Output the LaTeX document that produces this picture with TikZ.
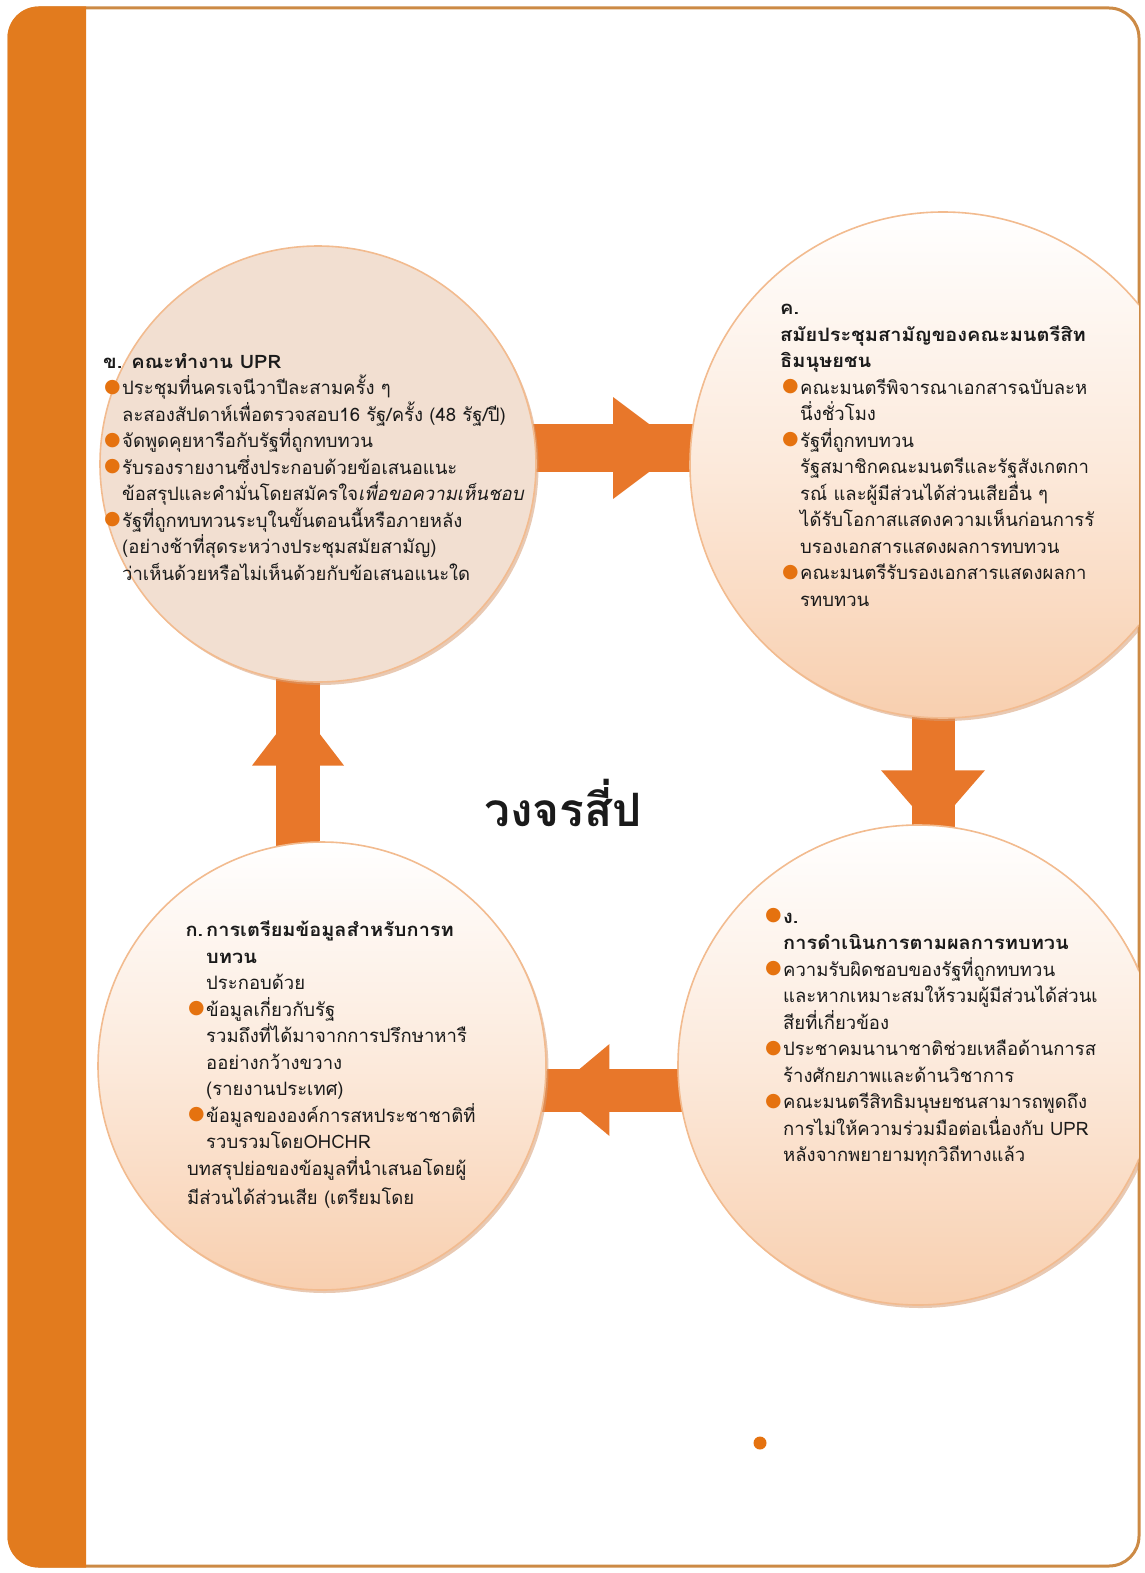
\documentclass[tikz,border=0pt]{standalone}
\usepackage{fontspec}
\setmainfont[Script=Thai]{Loma}
\newfontfamily\symf{DejaVu Sans}
\usetikzlibrary{shadows,decorations.markings,calc}
\definecolor{bandc}{HTML}{E27B1E}
\definecolor{framec}{HTML}{CC8A45}
\definecolor{arrowc}{HTML}{E8772A}
\definecolor{bulc}{HTML}{E5720F}
\definecolor{ring}{HTML}{F2BB8F}
\definecolor{peach}{HTML}{F8CFAF}
\definecolor{beige}{HTML}{F2DFD1}
\definecolor{shadc}{HTML}{D69C74}
\definecolor{txt}{HTML}{1A1A1A}
\pgfdeclarelayer{bg}
\pgfsetlayers{bg,main}
\newcommand{\bul}{\llap{\makebox[18pt][l]{\raisebox{2.5pt}{\textcolor{bulc}{\fontsize{19}{19}\selectfont\symf ●}}}}}
\newcommand{\hd}{\bfseries\addfontfeature{FakeStretch=1.08}}
\tikzset{
  x=1pt, y=-1pt,
  stage/.style={circle, inner sep=0pt, draw=ring, line width=1.6pt,
    drop shadow={shadow xshift=2.5pt, shadow yshift=-3pt, fill=shadc, opacity=0.55}},
  gradstage/.style={stage, top color=white, bottom color=peach, middle color=peach!45},
  body/.style={anchor=base west, inner sep=0pt, align=left, text=txt,
    font=\fontsize{18.5}{26.5}\selectfont},
  shaft/.style={draw=arrowc, line width=#1},
}
\begin{document}
\begin{tikzpicture}
\useasboundingbox (0,0) rectangle (1144,1573);
% frame
\draw[framec, line width=3pt, rounded corners=30pt] (9,8) rectangle (1139,1566);
\begin{scope}
  \clip (0,0) rectangle (86,1573);
  \fill[bandc, rounded corners=31pt] (7.5,6.5) rectangle (140,1567.5);
\end{scope}
% stages
\begin{scope}
  \clip (0,0) rectangle (1138.5,1573);
  \node[stage, fill=beige, minimum size=436pt] (c1) at (318,464) {};
  \node[gradstage, minimum size=506pt] (c2) at (943,465) {};
  \node[gradstage, minimum size=480pt] (c3) at (918,1065) {};
  \node[gradstage, minimum size=448pt] (c4) at (322,1066) {};
\end{scope}
% flow arrows
\begin{pgfonlayer}{bg}
  \draw[shaft=48pt, postaction={decorate, decoration={markings,
      mark=at position 0.5 with {\fill[arrowc] (0,-51) -- (68,0) -- (0,51) -- cycle;}}}]
    ($(c1.east)+(-10,-16)$) -- ($(c2.west)+(10,-17)$);
  \draw[shaft=43pt, postaction={decorate, decoration={markings,
      mark=at position 0.49 with {\fill[arrowc] (0,-52) -- (60,0) -- (0,52) -- cycle;}}}]
    ($(c2.south)+(-10,-10)$) -- ($(c3.north)+(15,10)$);
  \draw[shaft=43pt, postaction={decorate, decoration={markings,
      mark=at position 0.517 with {\fill[arrowc] (0,-46) -- (55,0) -- (0,46) -- cycle;}}}]
    ($(c3.west)+(10,25)$) -- ($(c4.east)+(-10,24)$);
  \draw[shaft=44pt, postaction={decorate, decoration={markings,
      mark=at position 0.48 with {\fill[arrowc] (0,-46) -- (60,0) -- (0,46) -- cycle;}}}]
    ($(c4.north)+(-24,10)$) -- ($(c1.south)+(-20,-10)$);
\end{pgfonlayer}
% texts (anchored at the baseline of the last line)
\node[body] (t1) at (122,580) {%
  \hspace*{-19pt}{\hd ข. คณะทำงาน UPR}\\
  \bul ประชุมที่นครเจนีวาปีละสามครั้ง ๆ\\
  ละสองสัปดาห์เพื่อตรวจสอบ16 รัฐ/ครั้ง (48 รัฐ/ปี)\\
  \bul จัดพูดคุยหารือกับรัฐที่ถูกทบทวน\\
  \bul รับรองรายงานซึ่งประกอบด้วยข้อเสนอแนะ\\
  ข้อสรุปและคำมั่นโดยสมัครใจ\textit{เพื่อขอความเห็นชอบ}\\
  \bul รัฐที่ถูกทบทวนระบุในขั้นตอนนี้หรือภายหลัง\\
  (อย่างช้าที่สุดระหว่างประชุมสมัยสามัญ)\\
  ว่าเห็นด้วยหรือไม่เห็นด้วยกับข้อเสนอแนะใด};
\node[body] (t2) at (800,606) {%
  \hspace*{-20pt}{\hd ค.}\\
  \hspace*{-20pt}{\hd สมัยประชุมสามัญของคณะมนตรีสิท}\\
  \hspace*{-20pt}{\hd ธิมนุษยชน}\\
  \bul คณะมนตรีพิจารณาเอกสารฉบับละห\\
  นึ่งชั่วโมง\\
  \bul รัฐที่ถูกทบทวน\\
  รัฐสมาชิกคณะมนตรีและรัฐสังเกตกา\\
  รณ์ และผู้มีส่วนได้ส่วนเสียอื่น ๆ\\
  ได้รับโอกาสแสดงความเห็นก่อนการรั\\
  บรองเอกสารแสดงผลการทบทวน\\
  \bul คณะมนตรีรับรองเอกสารแสดงผลกา\\
  รทบทวน};
\node[body] (t3) at (783,1161.5) {%
  \bul{\hd ง.}\\
  {\hd การดำเนินการตามผลการทบทวน}\\
  \bul ความรับผิดชอบของรัฐที่ถูกทบทวน\\
  และหากเหมาะสมให้รวมผู้มีส่วนได้ส่วนเ\\
  สียที่เกี่ยวข้อง\\
  \bul ประชาคมนานาชาติช่วยเหลือด้านการส\\
  ร้างศักยภาพและด้านวิชาการ\\
  \bul คณะมนตรีสิทธิมนุษยชนสามารถพูดถึง\\
  การไม่ให้ความร่วมมือต่อเนื่องกับ UPR\\
  หลังจากพยายามทุกวิถีทางแล้ว};
\node[body] (t4) at (206,1204) {%
  \llap{\hd ก.\hspace{3pt}}{\hd การเตรียมข้อมูลสำหรับการท}\\
  {\hd บทวน}\\
  ประกอบด้วย\\
  \bul ข้อมูลเกี่ยวกับรัฐ\\
  รวมถึงที่ได้มาจากการปรึกษาหารื\\
  ออย่างกว้างขวาง\\
  (รายงานประเทศ)\\
  \bul ข้อมูลขององค์การสหประชาชาติที่\\
  รวบรวมโดยOHCHR\\
  \hspace*{-19pt}บทสรุปย่อของข้อมูลที่นำเสนอโดยผู้\\[2.5pt]
  \hspace*{-19pt}มีส่วนได้ส่วนเสีย (เตรียมโดย};
\node[text=txt, font=\fontsize{46}{46}\selectfont\bfseries] (title) at (563,803) {วงจรสี่ป};
\node[circle, fill=bulc, minimum size=13pt, inner sep=0pt] (dot) at (760,1443) {};
\end{tikzpicture}
\end{document}
